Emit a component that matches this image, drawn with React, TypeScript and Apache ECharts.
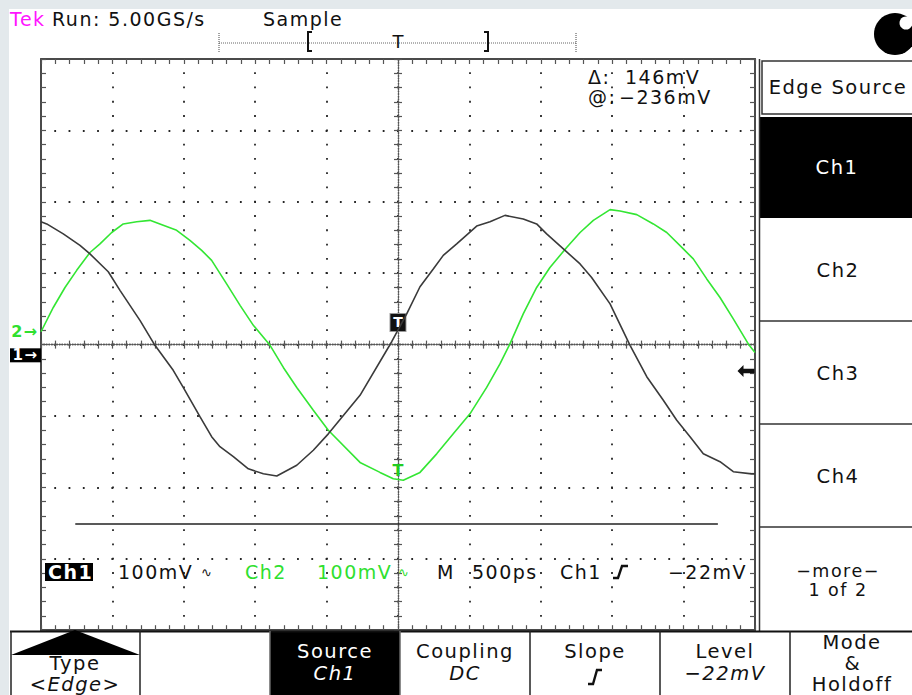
import React, { useEffect, useRef } from "react";
import * as echarts from "echarts";

// ---- waveform data (time in ps relative to trigger, voltage in mV relative to channel ground)
const ch1TimePs = [-2500, -2460, -2344, -2227, -2157, -2029, -1947, -1807, -1702, -1574, -1504, -1387, -1305, -1247, -1153, -1048, -943, -849, -709, -593, -488, -266, -44, 61, 154, 247, 317, 411, 551, 644, 749, 877, 971, 1041, 1158, 1275, 1356, 1485, 1625, 1742, 1858, 1952, 2045, 2138, 2255, 2348, 2477, 2500];
const ch1Mv = [187, 184, 170, 154, 142, 117, 91, 49, 14, -21, -45, -86, -114, -128, -142, -159, -166, -169, -154, -133, -110, -56, 19, 58, 96, 121, 140, 156, 181, 187, 196, 191, 184, 170, 149, 128, 109, 72, 14, -30, -63, -91, -114, -138, -149, -163, -166, -166];

const ch2TimePs = [-2500, -2414, -2332, -2250, -2157, -2087, -2005, -1924, -1830, -1737, -1644, -1550, -1457, -1375, -1305, -1200, -1106, -1013, -896, -803, -709, -593, -488, -266, -126, -33, 37, 154, 271, 387, 504, 621, 714, 784, 877, 971, 1064, 1181, 1275, 1368, 1485, 1555, 1672, 1788, 1882, 1998, 2068, 2162, 2255, 2348, 2453, 2500];
const ch2Mv = [0, 34, 62, 86, 111, 123, 139, 151, 154, 156, 149, 142, 128, 114, 100, 67, 37, 9, -19, -50, -78, -110, -138, -183, -197, -206, -208, -197, -171, -143, -115, -78, -45, -17, 25, 62, 90, 118, 139, 156, 171, 169, 164, 151, 139, 116, 102, 74, 48, 18, -17, -29];

// ---- scales (screen = 10 x 8 divisions, 500 ps/div, 100 mV/div)
const timeRangePs = [-2500, 2500];
const ch1RangeMv = [-385, 415];
const ch2RangeMv = [-418, 382];
const divRangeX = [-5, 5];
const divRangeY = [-4, 4];

// ---- cursors / trigger
const cursorMv = -236;
const cursorDeltaMv = 146;
const cursorSpanPs = [-2260, 2240];
const triggerLevelMv = -22;
const triggerMarkMv = [46, -194];

// ---- texts
const headerTexts = ["Tek", "Run: 5.00GS/s", "Sample"];
const sideMenu = ["Edge Source", "Ch1", "Ch2", "Ch3", "Ch4", "\u2212more\u2212", "1 of 2"];
const statusTexts = ["Ch1", "100mV", "Ch2", "100mV", "M", "500ps", "Ch1"];
const bottomMenu = [
  ["Type", "<Edge>"],
  ["Source", "Ch1"],
  ["Coupling", "DC"],
  ["Slope", ""],
  ["Level", "\u221222mV"],
  ["Mode", "&", "Holdoff"],
];

const FONT = '"DejaVu Sans", sans-serif';
const GREEN = "#2fe02f";
const INK = "#111";

const mv = (v: number) => `${v < 0 ? "\u2212" : ""}${Math.abs(v)}mV`;

function txt(x: number, y: number, text: string, o: any = {}) {
  return {
    type: "text",
    x,
    y,
    silent: true,
    z: 60,
    style: {
      text,
      fill: o.fill ?? INK,
      fontSize: o.size ?? 19,
      fontFamily: FONT,
      fontStyle: o.italic ? "italic" : "normal",
      fontWeight: o.bold ? "bold" : "normal",
      textAlign: o.align ?? "left",
      textVerticalAlign: "middle",
    },
  };
}
function rect(x: number, y: number, w: number, h: number, fill: string, stroke?: string, lw = 1.5) {
  return {
    type: "rect",
    silent: true,
    z: 40,
    shape: { x, y, width: w, height: h },
    style: { fill, stroke: stroke ?? null, lineWidth: stroke ? lw : 0 },
  };
}
function line(x1: number, y1: number, x2: number, y2: number, stroke = "#222", lw = 1.5, dash?: number[]) {
  return {
    type: "line",
    silent: true,
    z: 45,
    shape: { x1, y1, x2, y2 },
    style: { stroke, lineWidth: lw, lineDash: dash ?? null },
  };
}
function poly(points: number[][], stroke = INK, lw = 2.2) {
  return { type: "polyline", silent: true, z: 60, shape: { points }, style: { stroke, lineWidth: lw, fill: null } };
}

const DOT = { color: "#262626", width: 1.8, type: [1.8, 12.48], dashOffset: 0.9 };
const FRAME = { color: "#4a4a4a", width: 2 };
const TICK = { color: "#555", width: 1.2 };
const CENTER = { color: "#555", width: 1.3, type: [1, 1.6] };

function edgeAxis(isX: boolean, position: string, split: boolean) {
  const r = isX ? divRangeX : divRangeY;
  return {
    type: "value",
    min: r[0],
    max: r[1],
    interval: 1,
    position,
    silent: true,
    axisLine: { show: true, onZero: false, lineStyle: FRAME },
    axisTick: { show: true, inside: true, length: 5, lineStyle: TICK },
    minorTick: { show: true, splitNumber: 5, length: 5, lineStyle: TICK },
    axisLabel: { show: false },
    splitLine: { show: split, lineStyle: DOT },
    minorSplitLine: { show: false },
  };
}
function centerAxis(isX: boolean, position: string, onZeroAxisIndex: number) {
  const r = isX ? divRangeX : divRangeY;
  return {
    type: "value",
    min: r[0],
    max: r[1],
    interval: 1,
    position,
    silent: true,
    axisLine: { show: true, onZero: true, onZeroAxisIndex, lineStyle: CENTER },
    axisTick: { show: true, inside: false, length: 4, lineStyle: TICK },
    minorTick: { show: true, splitNumber: 5, length: 4, lineStyle: TICK },
    axisLabel: { show: false },
    splitLine: { show: false },
  };
}

function buildOption() {
  const ch1Data = ch1TimePs.map((t, i) => [t, ch1Mv[i]]);
  const ch2Data = ch2TimePs.map((t, i) => [t, ch2Mv[i]]);

  const graphics: any[] = [
    rect(0, 0, 912, 9, "#e3e9ec"),
    rect(0, 0, 9, 695, "#e3e9ec"),
    txt(10, 19, headerTexts[0], { fill: "#ff14ff" }),
    txt(52, 19, headerTexts[1]),
    txt(263, 19, headerTexts[2]),
    line(219, 43, 576, 43, "#666", 1, [1, 1]),
    line(219, 33, 219, 52, "#444", 1, [1, 1]),
    line(576, 33, 576, 52, "#444", 1, [1, 1]),
    poly([[312, 32], [308, 32], [308, 51], [312, 51]], INK, 2),
    poly([[484, 32], [488, 32], [488, 51], [484, 51]], INK, 2),
    txt(398, 41, "T", { align: "center", size: 18 }),
    { type: "circle", silent: true, z: 40, shape: { cx: 895, cy: 34, r: 21 }, style: { fill: "#000" } },
    { type: "circle", silent: true, z: 41, shape: { cx: 906, cy: 23, r: 6.5 }, style: { fill: "#fff" } },
    // right menu
    line(759.5, 59, 759.5, 631, "#333", 1.5),
    rect(762, 61, 152, 53, "#fff", "#333", 1.5),
    txt(838, 87, sideMenu[0], { align: "center", size: 19.5 }),
    rect(760, 117, 152, 101, "#000"),
    txt(837, 167, sideMenu[1], { align: "center", size: 19.5, fill: "#fff" }),
    line(760, 321, 912, 321, "#333", 1.5),
    line(760, 424, 912, 424, "#333", 1.5),
    line(760, 527, 912, 527, "#333", 1.5),
    txt(838, 270, sideMenu[2], { align: "center", size: 19.5 }),
    txt(838, 373, sideMenu[3], { align: "center", size: 19.5 }),
    txt(838, 476, sideMenu[4], { align: "center", size: 19.5 }),
    txt(838, 571, sideMenu[5], { align: "center", size: 17.5 }),
    txt(838, 590, sideMenu[6], { align: "center", size: 17.5 }),
    // cursor readout
    txt(588, 77, "\u0394:"),
    txt(625, 77, mv(cursorDeltaMv)),
    txt(588, 97, "@:"),
    txt(619, 97, mv(cursorMv)),
    // status row
    rect(45, 563, 48, 18, "#000"),
    txt(48, 572, statusTexts[0], { fill: "#fff", bold: true }),
    txt(118, 572, statusTexts[1]),
    txt(201, 572, "\u223F", { size: 13 }),
    txt(245, 572, statusTexts[2], { fill: GREEN }),
    txt(317, 572, statusTexts[3], { fill: GREEN }),
    txt(398, 572, "\u223F", { size: 13, fill: GREEN }),
    txt(437, 572, statusTexts[4]),
    txt(472, 572, statusTexts[5]),
    txt(560, 572, statusTexts[6]),
    poly([[613, 578], [618, 578], [622, 566], [628, 566]], INK, 2.4),
    txt(747, 572, mv(triggerLevelMv), { align: "right" }),
    // bottom menu
    rect(270, 632, 130, 63, "#000"),
    line(10, 631.5, 912, 631.5, "#111", 2),
    line(11, 631, 11, 695, "#222", 1.5),
    line(140, 631, 140, 695, "#222", 1.5),
    line(270, 631, 270, 695, "#666", 1.5),
    line(400, 631, 400, 695, "#666", 1.5),
    line(530, 631, 530, 695, "#222", 1.5),
    line(660, 631, 660, 695, "#222", 1.5),
    line(790, 631, 790, 695, "#222", 1.5),
    { type: "polygon", silent: true, z: 55, shape: { points: [[75, 630], [11, 655], [140, 655]] }, style: { fill: "#000" } },
    txt(75, 663, bottomMenu[0][0], { align: "center", size: 19.5 }),
    txt(75, 684, bottomMenu[0][1], { align: "center", size: 19.5, italic: true }),
    txt(335, 651, bottomMenu[1][0], { align: "center", size: 19.5, fill: "#fff" }),
    txt(335, 673, bottomMenu[1][1], { align: "center", size: 19.5, fill: "#fff", italic: true }),
    txt(465, 651, bottomMenu[2][0], { align: "center", size: 19.5 }),
    txt(465, 673, bottomMenu[2][1], { align: "center", size: 19.5, italic: true }),
    txt(595, 651, bottomMenu[3][0], { align: "center", size: 19.5 }),
    poly([[588, 684], [593, 684], [597, 670], [602, 670]], INK, 2.4),
    txt(725, 651, bottomMenu[4][0], { align: "center", size: 19.5 }),
    txt(725, 673, bottomMenu[4][1], { align: "center", size: 19.5, italic: true }),
    txt(852, 642, bottomMenu[5][0], { align: "center", size: 19.5 }),
    txt(852, 663, bottomMenu[5][1], { align: "center", size: 19.5 }),
    txt(852, 684, bottomMenu[5][2], { align: "center", size: 19.5 }),
  ];

  return {
    animation: false,
    backgroundColor: "#fff",
    grid: { left: 41, top: 59, width: 714, height: 571.2, show: false },
    xAxis: [
      { type: "value", min: timeRangePs[0], max: timeRangePs[1], show: false, axisLine: { onZero: false }, splitLine: { show: false } },
      edgeAxis(true, "bottom", true),
      edgeAxis(true, "top", false),
      centerAxis(true, "bottom", 0),
      centerAxis(true, "top", 0),
    ],
    yAxis: [
      edgeAxis(false, "left", true),
      edgeAxis(false, "right", false),
      centerAxis(false, "left", 1),
      centerAxis(false, "right", 1),
      { type: "value", min: ch1RangeMv[0], max: ch1RangeMv[1], show: false, axisLine: { onZero: false }, splitLine: { show: false } },
      { type: "value", min: ch2RangeMv[0], max: ch2RangeMv[1], show: false, axisLine: { onZero: false }, splitLine: { show: false } },
    ],
    series: [
      {
        name: "Ch1",
        type: "line",
        xAxisIndex: 0,
        yAxisIndex: 4,
        data: ch1Data,
        symbol: "none",
        showSymbol: false,
        silent: true,
        z: 5,
        lineStyle: { color: "#3a3a3a", width: 1.6 },
        markLine: {
          silent: true,
          symbol: ["none", "none"],
          label: { show: false },
          lineStyle: { color: "#222", width: 1.5, type: "solid" },
          data: [[{ coord: [cursorSpanPs[0], cursorMv] }, { coord: [cursorSpanPs[1], cursorMv] }]],
        },
        markPoint: {
          silent: true,
          data: [
            {
              coord: [0, triggerMarkMv[0]],
              symbol: "rect",
              symbolSize: [16, 18],
              itemStyle: { color: "#111", borderColor: "#999", borderWidth: 1 },
              label: { show: true, formatter: "T", color: "#fff", fontSize: 14, fontWeight: "bold", fontFamily: FONT },
            },
            {
              coord: [timeRangePs[0], 0],
              symbol: "rect",
              symbolSize: [31, 14],
              symbolOffset: [-15.5, 0],
              itemStyle: { color: "#000" },
              label: { show: true, formatter: "1\u2192", color: "#fff", fontSize: 15, fontWeight: "bold", fontFamily: FONT },
            },
            {
              coord: [timeRangePs[1], triggerLevelMv],
              symbol: "path://M0,5.5L6,0L6,3.5L17,3.5L17,7.5L6,7.5L6,11Z",
              symbolSize: [17, 12],
              symbolOffset: [-9, 0],
              itemStyle: { color: "#111" },
              label: { show: false },
            },
          ],
        },
      },
      {
        name: "Ch2",
        type: "line",
        xAxisIndex: 0,
        yAxisIndex: 5,
        data: ch2Data,
        symbol: "none",
        showSymbol: false,
        silent: true,
        z: 4,
        lineStyle: { color: "#33e633", width: 1.6 },
        markPoint: {
          silent: true,
          data: [
            {
              coord: [0, triggerMarkMv[1]],
              symbol: "circle",
              symbolSize: 1,
              itemStyle: { color: "rgba(0,0,0,0)" },
              label: { show: true, formatter: "T", color: "#22cc22", fontSize: 16, fontWeight: "bold", fontFamily: FONT },
            },
            {
              coord: [timeRangePs[0], 0],
              symbol: "circle",
              symbolSize: 1,
              symbolOffset: [-16, 0],
              itemStyle: { color: "rgba(0,0,0,0)" },
              label: { show: true, formatter: "2\u2192", color: GREEN, fontSize: 16, fontWeight: "bold", fontFamily: FONT },
            },
          ],
        },
      },
    ],
    graphic: { elements: graphics },
  };
}

export default function App() {
  const ref = useRef<HTMLDivElement>(null);
  useEffect(() => {
    const el = ref.current!;
    const chart = echarts.init(el, null, { renderer: "svg" });
    const spacing = () => {
      el.querySelectorAll("text").forEach((n) => {
        const len = (n.textContent || "").length;
        n.setAttribute("letter-spacing", len > 1 ? "1.5" : "0");
      });
    };
    chart.on("finished", spacing);
    chart.setOption(buildOption() as any);
    spacing();
    const raf = requestAnimationFrame(spacing);
    return () => {
      cancelAnimationFrame(raf);
      chart.dispose();
    };
  }, []);
  return (
    <div
      ref={ref}
      style={{ position: "fixed", left: 0, top: 0, width: 912, height: 695, background: "#fff" }}
    />
  );
}
